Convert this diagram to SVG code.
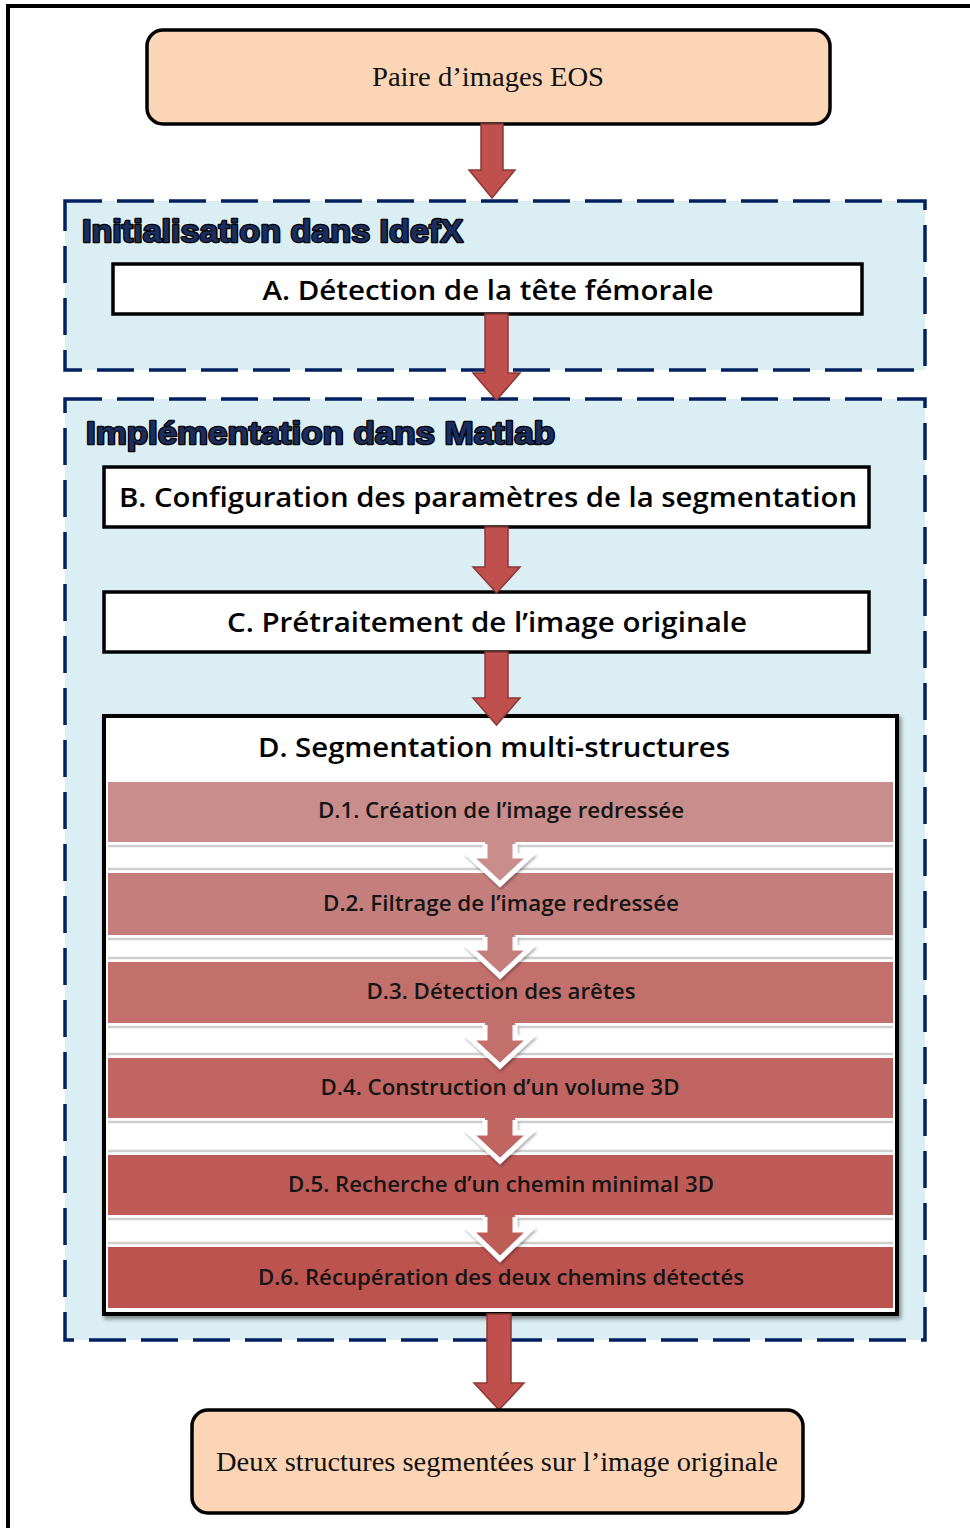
<svg xmlns="http://www.w3.org/2000/svg" width="970" height="1528" viewBox="0 0 970 1528">
<style>
.frame{fill:#fff;stroke:#000;stroke-width:4}
.term{fill:#FBD5B5;stroke:#000;stroke-width:3.5}
.term-t{font-family:"Liberation Serif",serif;font-size:27px;fill:#111;text-anchor:middle}
.group{fill:#DBEEF4;stroke:#002060;stroke-width:3.5;stroke-dasharray:37 15}
.gtitle{font-family:"Liberation Sans",Arial,sans-serif;font-weight:bold;font-size:32px;fill:#1b2d5c;stroke:#000;stroke-width:2.5;paint-order:stroke fill;stroke-linejoin:round}
.box{fill:#fff;stroke:#000;stroke-width:3.5}
.box-t{font-family:"Open Sans","Noto Sans",sans-serif;font-weight:600;font-size:27px;fill:#000;text-anchor:middle}
.row-t{font-family:"Open Sans","Noto Sans",sans-serif;font-weight:600;font-size:21px;fill:#151515;text-anchor:middle}
.arrow{fill:#C0504D;stroke:#8C3836;stroke-width:1.5}
.band{fill:#fff}
.bline{stroke:#cfcfcf;stroke-width:2.5}
.chev-o{fill:none;stroke:#fff;stroke-width:5;stroke-linejoin:miter}
</style>
<defs>
<filter id="sh" x="-10%" y="-10%" width="130%" height="130%">
<feDropShadow dx="2" dy="3" stdDeviation="2" flood-color="#000" flood-opacity="0.45"/>
</filter>
<filter id="csh" x="-30%" y="-30%" width="160%" height="160%">
<feDropShadow dx="1" dy="2" stdDeviation="1.5" flood-color="#000" flood-opacity="0.35"/>
</filter>
</defs>
<rect class="frame" x="8" y="6" width="1000" height="1600"/>

<g id="start">
<rect class="term" x="147" y="30" width="683" height="94" rx="16"/>
<text class="term-t" x="488" y="86" textLength="232" lengthAdjust="spacingAndGlyphs">Paire d’images EOS</text>
</g>

<g id="group-idefx">
<rect class="group" x="65" y="201" width="860" height="169"/>
<text class="gtitle" x="82" y="242" textLength="381" lengthAdjust="spacingAndGlyphs">Initialisation dans IdefX</text>
</g>

<g id="nodeA">
<rect class="box" x="113" y="264" width="749" height="50"/>
<text class="box-t" x="488" y="300" textLength="451" lengthAdjust="spacingAndGlyphs">A. Détection de la tête fémorale</text>
</g>

<g id="group-matlab">
<rect class="group" x="65" y="399" width="860" height="941"/>
<text class="gtitle" x="86" y="444" textLength="469" lengthAdjust="spacingAndGlyphs">Implémentation dans Matlab</text>
</g>

<g id="nodeB">
<rect class="box" x="104" y="467" width="765" height="60"/>
<text class="box-t" x="488" y="507" textLength="738" lengthAdjust="spacingAndGlyphs">B. Configuration des paramètres de la segmentation</text>
</g>

<g id="nodeC">
<rect class="box" x="104" y="592" width="765" height="60"/>
<text class="box-t" x="487" y="632" textLength="520" lengthAdjust="spacingAndGlyphs">C. Prétraitement de l’image originale</text>
</g>

<g id="nodeD">
<rect x="104" y="716" width="793" height="598" fill="#fff" stroke="#000" stroke-width="4" filter="url(#sh)"/>
<text class="box-t" x="494" y="757" textLength="472" lengthAdjust="spacingAndGlyphs">D. Segmentation multi-structures</text>
<rect x="108" y="782" width="785" height="60" fill="#C98D8B"/>
<rect x="108" y="873" width="785" height="62" fill="#C47F7D"/>
<rect x="108" y="962" width="785" height="61" fill="#C3706D"/>
<rect x="108" y="1058" width="785" height="60" fill="#C06561"/>
<rect x="108" y="1155" width="785" height="60" fill="#BE5B57"/>
<rect x="108" y="1247" width="785" height="61" fill="#BD534F"/>
<line class="bline" x1="108" y1="846" x2="893" y2="846"/>
<line class="bline" x1="108" y1="869" x2="893" y2="869"/>
<line class="bline" x1="108" y1="939" x2="893" y2="939"/>
<line class="bline" x1="108" y1="958" x2="893" y2="958"/>
<line class="bline" x1="108" y1="1027" x2="893" y2="1027"/>
<line class="bline" x1="108" y1="1054" x2="893" y2="1054"/>
<line class="bline" x1="108" y1="1122" x2="893" y2="1122"/>
<line class="bline" x1="108" y1="1151" x2="893" y2="1151"/>
<line class="bline" x1="108" y1="1219" x2="893" y2="1219"/>
<line class="bline" x1="108" y1="1243" x2="893" y2="1243"/>
</g>

<g id="connectors">
<polygon class="arrow" points="481,124 503,124 503,170 515,170 492,198 469,170 481,170"/>
<polygon class="arrow" points="485,314 508,314 508,373 520,373 496.5,400 473,373 485,373"/>
<polygon class="arrow" points="485,527 508,527 508,567 520,567 496.5,593 473,567 485,567"/>
<polygon class="arrow" points="485,652 508,652 508,698 520,698 496.5,725 473,698 485,698"/>
<polygon class="arrow" points="487,1314 511,1314 511,1383 524,1383 499,1410 474,1383 487,1383"/>

<g filter="url(#csh)">
<polygon points="485,842 515,842 515,856 530,856 500,884 470,856 485,856" fill="#C98D8B"/>
<polyline class="chev-o" points="485,844 485,856 470,856 500,884 530,856 515,856 515,844"/>
<polygon points="485,935 515,935 515,948 530,948 500,976 470,948 485,948" fill="#C47F7D"/>
<polyline class="chev-o" points="485,937 485,948 470,948 500,976 530,948 515,948 515,937"/>
<polygon points="485,1023 515,1023 515,1038 530,1038 500,1066 470,1038 485,1038" fill="#C3706D"/>
<polyline class="chev-o" points="485,1025 485,1038 470,1038 500,1066 530,1038 515,1038 515,1025"/>
<polygon points="485,1118 515,1118 515,1133 530,1133 500,1161 470,1133 485,1133" fill="#C06561"/>
<polyline class="chev-o" points="485,1120 485,1133 470,1133 500,1161 530,1133 515,1133 515,1120"/>
<polygon points="485,1215 515,1215 515,1230 530,1230 500,1259 470,1230 485,1230" fill="#BE5B57"/>
<polyline class="chev-o" points="485,1217 485,1230 470,1230 500,1259 530,1230 515,1230 515,1217"/>
</g>
</g>

<g id="nodeD-rows">
<text class="row-t" x="501" y="818" textLength="366" lengthAdjust="spacingAndGlyphs">D.1. Création de l’image redressée</text>
<text class="row-t" x="501" y="911" textLength="356" lengthAdjust="spacingAndGlyphs">D.2. Filtrage de l’image redressée</text>
<text class="row-t" x="501" y="999" textLength="269" lengthAdjust="spacingAndGlyphs">D.3. Détection des arêtes</text>
<text class="row-t" x="500" y="1095" textLength="359" lengthAdjust="spacingAndGlyphs">D.4. Construction d’un volume 3D</text>
<text class="row-t" x="501" y="1192" textLength="426" lengthAdjust="spacingAndGlyphs">D.5. Recherche d’un chemin minimal 3D</text>
<text class="row-t" x="501" y="1285" textLength="486" lengthAdjust="spacingAndGlyphs">D.6. Récupération des deux chemins détectés</text>
</g>

<g id="end">
<rect class="term" x="192" y="1410" width="611" height="103" rx="16"/>
<text class="term-t" x="497" y="1471" textLength="562" lengthAdjust="spacingAndGlyphs">Deux structures segmentées sur l’image originale</text>
</g>
</svg>
